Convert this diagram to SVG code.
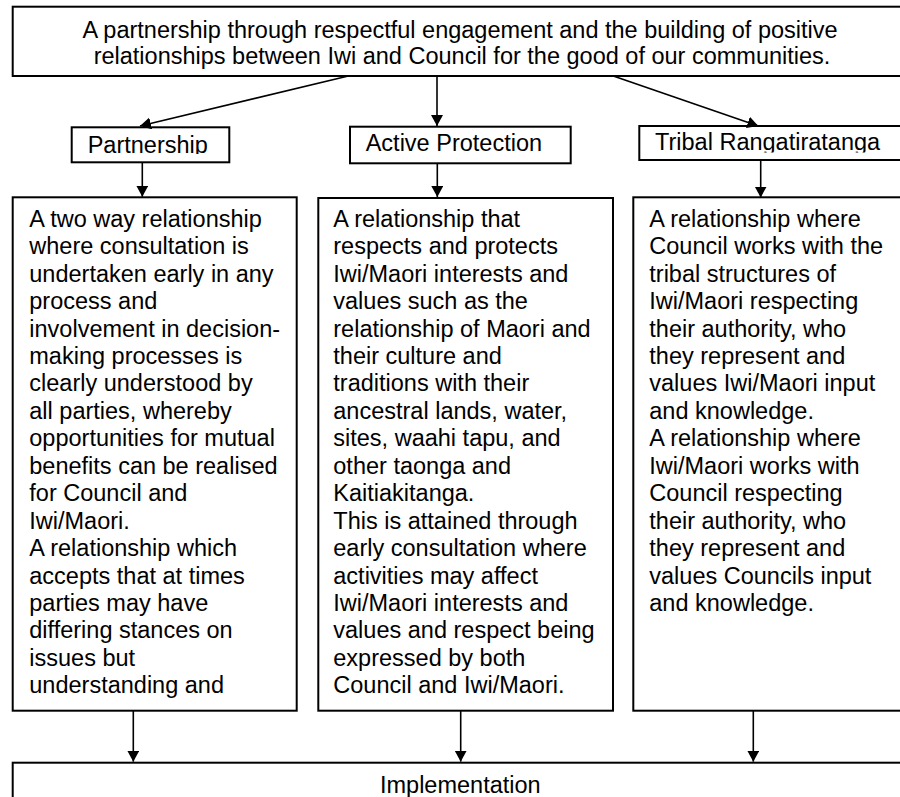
<svg xmlns="http://www.w3.org/2000/svg" width="900" height="797" viewBox="0 0 900 797">
<style>
.box{fill:#fff;stroke:#000;stroke-width:2}
.t{font-family:"Liberation Sans",Arial,sans-serif;font-size:23.5px;fill:#000}
.c{text-anchor:middle}
.ln{stroke:#000;stroke-width:1.6;fill:none;marker-end:url(#ah)}
</style>
<defs>
<marker id="ah" markerWidth="13" markerHeight="13" refX="11" refY="6" orient="auto" markerUnits="userSpaceOnUse"><path d="M0,0 L11,6 L0,12 z" fill="#000"/></marker>
<clipPath id="cp1"><rect x="72" y="128" width="157" height="26"/></clipPath>
<clipPath id="cp3"><rect x="640" y="127" width="270" height="25.5"/></clipPath>
</defs>
<rect width="900" height="797" fill="#fff"/>
<g id="vision">
<rect class="box" x="12.7" y="6.7" width="896" height="69.3"/>
<text class="t c" x="460" y="37.5">A partnership through respectful engagement and the building of positive</text>
<text class="t c" x="462" y="64">relationships between Iwi and Council for the good of our communities.</text>
</g>
<g id="partnership-label">
<rect class="box" x="71.7" y="127.3" width="157.6" height="35"/>
<text class="t" x="87.7" y="152.5" clip-path="url(#cp1)">Partnership</text>
</g>
<g id="active-label">
<rect class="box" x="350" y="126.7" width="220.7" height="36.6"/>
<text class="t" x="365.7" y="150.7">Active Protection</text>
</g>
<g id="tribal-label">
<rect class="box" x="639.3" y="126" width="280" height="34"/>
<text class="t" x="655" y="150" clip-path="url(#cp3)">Tribal Rangatiratanga</text>
</g>
<g id="partnership-body">
<rect class="box" x="12.7" y="197.3" width="284" height="513.4"/>
<text class="t" x="29.3">
<tspan x="29.3" y="226.7">A two way relationship</tspan>
<tspan x="29.3" y="254.15">where consultation is</tspan>
<tspan x="29.3" y="281.6">undertaken early in any</tspan>
<tspan x="29.3" y="309.05">process and</tspan>
<tspan x="29.3" y="336.5">involvement in decision-</tspan>
<tspan x="29.3" y="363.95">making processes is</tspan>
<tspan x="29.3" y="391.4">clearly understood by</tspan>
<tspan x="29.3" y="418.85">all parties, whereby</tspan>
<tspan x="29.3" y="446.3">opportunities for mutual</tspan>
<tspan x="29.3" y="473.75">benefits can be realised</tspan>
<tspan x="29.3" y="501.2">for Council and</tspan>
<tspan x="29.3" y="528.65">Iwi/Maori.</tspan>
<tspan x="29.3" y="556.1">A relationship which</tspan>
<tspan x="29.3" y="583.55">accepts that at times</tspan>
<tspan x="29.3" y="611">parties may have</tspan>
<tspan x="29.3" y="638.45">differing stances on</tspan>
<tspan x="29.3" y="665.9">issues but</tspan>
<tspan x="29.3" y="693.35">understanding and</tspan>
</text>
</g>
<g id="active-body">
<rect class="box" x="318.3" y="198" width="294.7" height="512.7"/>
<text class="t">
<tspan x="333.3" y="226.7">A relationship that</tspan>
<tspan x="333.3" y="254.15">respects and protects</tspan>
<tspan x="333.3" y="281.6">Iwi/Maori interests and</tspan>
<tspan x="333.3" y="309.05">values such as the</tspan>
<tspan x="333.3" y="336.5">relationship of Maori and</tspan>
<tspan x="333.3" y="363.95">their culture and</tspan>
<tspan x="333.3" y="391.4">traditions with their</tspan>
<tspan x="333.3" y="418.85">ancestral lands, water,</tspan>
<tspan x="333.3" y="446.3">sites, waahi tapu, and</tspan>
<tspan x="333.3" y="473.75">other taonga and</tspan>
<tspan x="333.3" y="501.2">Kaitiakitanga.</tspan>
<tspan x="333.3" y="528.65">This is attained through</tspan>
<tspan x="333.3" y="556.1">early consultation where</tspan>
<tspan x="333.3" y="583.55">activities may affect</tspan>
<tspan x="333.3" y="611">Iwi/Maori interests and</tspan>
<tspan x="333.3" y="638.45">values and respect being</tspan>
<tspan x="333.3" y="665.9">expressed by both</tspan>
<tspan x="333.3" y="693.35">Council and Iwi/Maori.</tspan>
</text>
</g>
<g id="tribal-body">
<rect class="box" x="633.3" y="197.3" width="290" height="513.4"/>
<text class="t">
<tspan x="649.3" y="226.7">A relationship where</tspan>
<tspan x="649.3" y="254.15">Council works with the</tspan>
<tspan x="649.3" y="281.6">tribal structures of</tspan>
<tspan x="649.3" y="309.05">Iwi/Maori respecting</tspan>
<tspan x="649.3" y="336.5">their authority, who</tspan>
<tspan x="649.3" y="363.95">they represent and</tspan>
<tspan x="649.3" y="391.4">values Iwi/Maori input</tspan>
<tspan x="649.3" y="418.85">and knowledge.</tspan>
<tspan x="649.3" y="446.3">A relationship where</tspan>
<tspan x="649.3" y="473.75">Iwi/Maori works with</tspan>
<tspan x="649.3" y="501.2">Council respecting</tspan>
<tspan x="649.3" y="528.65">their authority, who</tspan>
<tspan x="649.3" y="556.1">they represent and</tspan>
<tspan x="649.3" y="583.55">values Councils input</tspan>
<tspan x="649.3" y="611">and knowledge.</tspan>
</text>
</g>
<g id="implementation">
<rect class="box" x="12.7" y="762.7" width="896" height="60"/>
<text class="t c" x="460.3" y="793.3">Implementation</text>
</g>
<g id="connectors">
<line class="ln" x1="348.3" y1="76" x2="140" y2="126"/>
<line class="ln" x1="437" y1="76" x2="437" y2="126"/>
<line class="ln" x1="613.3" y1="76" x2="758.3" y2="126"/>
<line class="ln" x1="142.3" y1="162.3" x2="142.3" y2="196.7"/>
<line class="ln" x1="437.3" y1="163.3" x2="437.3" y2="197"/>
<line class="ln" x1="760.7" y1="160" x2="760.7" y2="197.5"/>
<line class="ln" x1="133.3" y1="710.7" x2="133.3" y2="761.7"/>
<line class="ln" x1="460.7" y1="710.7" x2="460.7" y2="761.7"/>
<line class="ln" x1="753.3" y1="710.7" x2="753.3" y2="761.7"/>
</g>
</svg>
